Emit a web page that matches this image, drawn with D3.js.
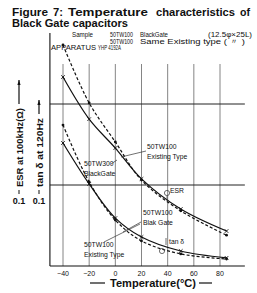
<!DOCTYPE html>
<html>
<head>
<meta charset="utf-8">
<script src="https://cdn.jsdelivr.net/npm/d3@7"></script>
<style>
  body { margin: 0; background: #fff; }
  svg text { font-family: "Liberation Sans", Arial, sans-serif; fill: #111; }
</style>
</head>
<body>
<script>
const W = 257, H = 293;

const temps = [-40, -20, 0, 20, 50, 85];
const esrExisting = [5.35, 1.03, 0.34, 0.115, 0.048, 0.024];
const esrBlackGate = [2.15, 0.65, 0.286, 0.119, 0.0505, 0.027];
const tanExisting = [0.55, 0.109, 0.037, 0.0204, 0.0141, 0.0122];
const tanBlackGate = [0.33, 0.103, 0.039, 0.0228, 0.0153, 0.0126];

const xTicks = [-40, -20, 0, 20, 40, 60, 80];
const xTickLabels = ['\u221240', '\u221220', '0', '20', '40', '60', '80'];
const yGrid = [1, 0.1];

const svg = d3.select('body').append('svg')
    .attr('width', W)
    .attr('height', H);

const x = d3.scaleLinear().domain([-40, 80]).range([63, 220]);
const y = d3.scaleLog().domain([0.01, 1]).range([266, 104]);
const x0 = x(-50), x1 = x(99);

//title, word by word (the original is justified)
const titleWords = [['Figure', 12, 36], ['7:', 53, 10], ['Temperature', 68, 80], ['characteristics', 156, 79], ['of', 240, 10]];
titleWords.forEach(w => svg.append('text')
    .attr('x', w[1]).attr('y', 16)
    .style('font-size', '11.5px').style('font-weight', 700)
    .attr('textLength', w[2]).attr('lengthAdjust', 'spacingAndGlyphs')
    .text(w[0]));
svg.append('text').attr('x', 12).attr('y', 27)
    .style('font-size', '11.5px').style('font-weight', 700)
    .attr('textLength', 116).attr('lengthAdjust', 'spacingAndGlyphs')
    .text('Black Gate capacitors');

//sample notes
const note = (tx, px, py, len) => svg.append('text')
    .attr('x', px).attr('y', py)
    .style('font-size', '6.8px')
    .attr('textLength', len).attr('lengthAdjust', 'spacingAndGlyphs')
    .text(tx);
note('Sample', 72, 37, 21);
note('50TW100', 110, 37, 23);
note('BlackGate', 140, 37, 28);
note('(12.5\u03c6\u00d725L)', 208, 37, 44);
note('50TW100', 110, 43.5, 23);
note('Same Existing type (  \u3003  )', 140, 43.5, 105);
note('APPARATUS', 51, 50, 45);
note('YHP 4192A', 98, 50, 23);

//grid
svg.append('g').selectAll('line').data(xTicks).enter().append('line')
    .attr('x1', d => x(d)).attr('x2', d => x(d))
    .attr('y1', 64).attr('y2', 266)
    .attr('stroke', '#666').attr('stroke-width', 0.8);
svg.append('g').selectAll('line').data(yGrid).enter().append('line')
    .attr('x1', x0).attr('x2', x1)
    .attr('y1', d => y(d)).attr('y2', d => y(d))
    .attr('stroke', '#222').attr('stroke-width', 1);

//frame
svg.append('line').attr('x1', x0).attr('x2', x0).attr('y1', 33).attr('y2', 266)
    .attr('stroke', '#111').attr('stroke-width', 1.1);
svg.append('line').attr('x1', x0).attr('x2', x1).attr('y1', 266).attr('y2', 266)
    .attr('stroke', '#111').attr('stroke-width', 1.1);

//x tick labels
svg.append('g').selectAll('text').data(xTicks).enter().append('text')
    .attr('x', d => x(d)).attr('y', 276)
    .attr('text-anchor', 'middle')
    .style('font-size', '7px')
    .text((d, i) => xTickLabels[i]);

//axis titles
svg.append('line').attr('x1', 90).attr('x2', 105).attr('y1', 283).attr('y2', 283)
    .attr('stroke', '#111').attr('stroke-width', 1.2);
svg.append('text').attr('x', 110).attr('y', 287)
    .style('font-size', '11px').style('font-weight', 700)
    .attr('textLength', 86).attr('lengthAdjust', 'spacingAndGlyphs')
    .text('Temperature(\u00b0C)');
svg.append('line').attr('x1', 199).attr('x2', 212).attr('y1', 283).attr('y2', 283)
    .attr('stroke', '#111').attr('stroke-width', 1.2);

const yTitle = (tx, cx, yTop, yBot, lineTop) => {
    svg.append('text')
        .attr('transform', `translate(${cx + 3.5},${yBot}) rotate(-90)`)
        .style('font-size', '9.5px').style('font-weight', 700)
        .attr('textLength', yBot - yTop).attr('lengthAdjust', 'spacingAndGlyphs')
        .text(tx);
    svg.append('line').attr('x1', cx).attr('x2', cx).attr('y1', yTop - 4).attr('y2', lineTop)
        .attr('stroke', '#111').attr('stroke-width', 1.2);
    svg.append('path')
        .attr('d', `M${cx - 1.6},${lineTop + 5}L${cx},${lineTop}L${cx + 1.6},${lineTop + 5}Z`)
        .attr('fill', '#111');
    svg.append('line').attr('x1', cx).attr('x2', cx).attr('y1', yBot + 3).attr('y2', yBot + 7)
        .attr('stroke', '#111').attr('stroke-width', 1);
    svg.append('text').attr('x', cx).attr('y', 204)
        .attr('text-anchor', 'middle')
        .style('font-size', '9px').style('font-weight', 700)
        .text('0.1');
};
yTitle('ESR at 100kHz(\u03a9)', 19, 108, 187, 80);
yTitle('tan \u03b4 at 120Hz', 39, 118, 187, 100);

//curves
const line = d3.line()
    .x((d, i) => x(temps[i]))
    .y(d => y(d))
    .curve(d3.curveCatmullRom.alpha(0.5));

const series = [
    { v: esrExisting, dash: '3,2' },
    { v: esrBlackGate, dash: null },
    { v: tanExisting, dash: '3,2' },
    { v: tanBlackGate, dash: null }
];

series.forEach(s => {
    svg.append('path')
        .attr('d', line(s.v))
        .attr('fill', 'none')
        .attr('stroke', '#111')
        .attr('stroke-width', 1.2)
        .attr('stroke-dasharray', s.dash);
    s.v.forEach((d, i) => {
        const px = x(temps[i]), py = y(d);
        if (s.dash) {
            svg.append('circle').attr('cx', px).attr('cy', py).attr('r', 1.4).attr('fill', '#111');
        } else {
            svg.append('path')
                .attr('d', `M${px - 1.8},${py - 1.8}L${px + 1.8},${py + 1.8}M${px - 1.8},${py + 1.8}L${px + 1.8},${py - 1.8}`)
                .attr('stroke', '#111').attr('stroke-width', 0.9);
        }
    });
});

//annotations
const label = (lines, px, py) => lines.forEach((t, i) => svg.append('text')
    .attr('x', px).attr('y', py + i * 10)
    .style('font-size', '6.8px')
    .text(t));
const leader = (ax, ay, bx, by) => svg.append('line')
    .attr('x1', ax).attr('y1', ay).attr('x2', bx).attr('y2', by)
    .attr('stroke', '#333').attr('stroke-width', 0.7);

label(['50TW100', 'Existing Type'], 147, 149);
leader(146, 151, 121, 157);
label(['50TW300', 'BlackGate'], 84, 166);
leader(111, 164, 117, 160);
label(['50TW100', 'Existing Type'], 84, 247);
leader(104, 242, 140, 224);
label(['50TW100', 'Blak Gate'], 143, 215);
leader(141, 222, 123, 232);

svg.append('circle').attr('cx', 167).attr('cy', 193).attr('r', 2.6)
    .attr('fill', 'none').attr('stroke', '#333').attr('stroke-width', 0.7);
leader(167, 196, 167, 201);
label(['ESR'], 170, 193);
svg.append('circle').attr('cx', 162).attr('cy', 251).attr('r', 2.6)
    .attr('fill', 'none').attr('stroke', '#333').attr('stroke-width', 0.7);
leader(166, 238, 166, 245);
label(['tan \u03b4'], 169, 244);
</script>
</body>
</html>
